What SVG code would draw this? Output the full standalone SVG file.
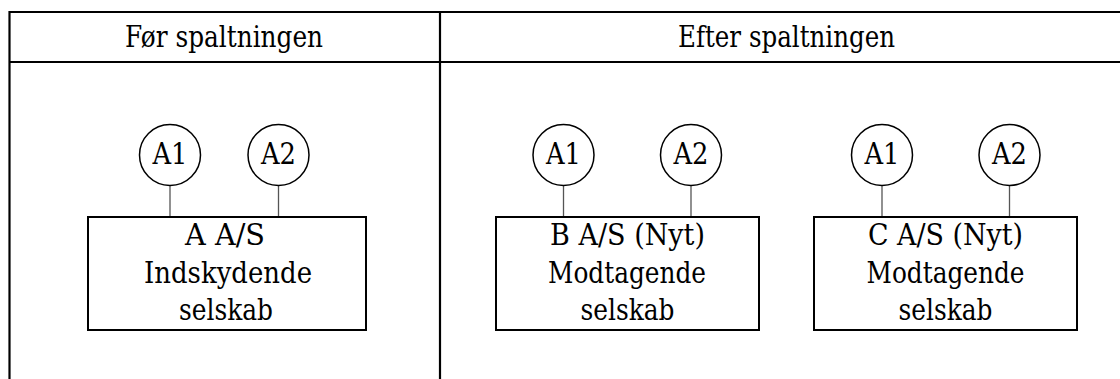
<svg xmlns="http://www.w3.org/2000/svg" width="1120" height="379" viewBox="0 0 1120 379">
<style>
text{font-family:"DejaVu Serif","Liberation Serif",serif;font-size:29px;fill:#000;text-anchor:middle}
.hdr{font-size:30px}
.frame{stroke:#000;stroke-width:2.2;fill:none}
.box{stroke:#000;stroke-width:2;fill:#fff}
.circ{stroke:#000;stroke-width:1.5;fill:#fff}
.conn{stroke:#555;stroke-width:1.3}
</style>
<g id="table">
<line class="frame" x1="9.5" y1="12" x2="1120" y2="12"/>
<line class="frame" x1="9.5" y1="62" x2="1120" y2="62"/>
<line class="frame" x1="9.5" y1="11" x2="9.5" y2="379"/>
<line class="frame" x1="440" y1="12" x2="440" y2="379"/>
<text class="hdr" x="224" y="46.5" textLength="198" lengthAdjust="spacingAndGlyphs">Før spaltningen</text>
<text class="hdr" x="786.5" y="46.5" textLength="217" lengthAdjust="spacingAndGlyphs">Efter spaltningen</text>
</g>
<g id="connectors">
<line class="conn" x1="170" y1="185.5" x2="170" y2="217"/>
<line class="conn" x1="278.5" y1="185.5" x2="278.5" y2="217"/>
<line class="conn" x1="563.5" y1="185.5" x2="563.5" y2="217"/>
<line class="conn" x1="691" y1="185.5" x2="691" y2="217"/>
<line class="conn" x1="882" y1="185.5" x2="882" y2="217"/>
<line class="conn" x1="1009.5" y1="185.5" x2="1009.5" y2="217"/>
</g>
<g id="nodeA">
<rect class="box" x="88" y="217" width="278" height="113"/>
<text x="225" y="245" textLength="80" lengthAdjust="spacingAndGlyphs">A A/S</text>
<text x="228" y="283" textLength="168" lengthAdjust="spacingAndGlyphs">Indskydende</text>
<text x="226" y="320" textLength="94" lengthAdjust="spacingAndGlyphs">selskab</text>
</g>
<g id="nodeA_A1"><circle class="circ" cx="170" cy="155" r="30.5"/><text x="170" y="164" textLength="35" lengthAdjust="spacingAndGlyphs">A1</text></g>
<g id="nodeA_A2"><circle class="circ" cx="278.5" cy="155" r="30.5"/><text x="278.5" y="164" textLength="35" lengthAdjust="spacingAndGlyphs">A2</text></g>
<g id="nodeB">
<rect class="box" x="496" y="217" width="263" height="113"/>
<text x="627.5" y="245" textLength="155" lengthAdjust="spacingAndGlyphs">B A/S (Nyt)</text>
<text x="627" y="283" textLength="158" lengthAdjust="spacingAndGlyphs">Modtagende</text>
<text x="627.5" y="320" textLength="94" lengthAdjust="spacingAndGlyphs">selskab</text>
</g>
<g id="nodeB_A1"><circle class="circ" cx="563.5" cy="155" r="30.5"/><text x="563.5" y="164" textLength="35" lengthAdjust="spacingAndGlyphs">A1</text></g>
<g id="nodeB_A2"><circle class="circ" cx="691" cy="155" r="30.5"/><text x="691" y="164" textLength="35" lengthAdjust="spacingAndGlyphs">A2</text></g>
<g id="nodeC">
<rect class="box" x="814" y="217" width="263" height="113"/>
<text x="945.5" y="245" textLength="155" lengthAdjust="spacingAndGlyphs">C A/S (Nyt)</text>
<text x="945.5" y="283" textLength="158" lengthAdjust="spacingAndGlyphs">Modtagende</text>
<text x="945.5" y="320" textLength="94" lengthAdjust="spacingAndGlyphs">selskab</text>
</g>
<g id="nodeC_A1"><circle class="circ" cx="882" cy="155" r="30.5"/><text x="882" y="164" textLength="35" lengthAdjust="spacingAndGlyphs">A1</text></g>
<g id="nodeC_A2"><circle class="circ" cx="1009.5" cy="155" r="30.5"/><text x="1009.5" y="164" textLength="35" lengthAdjust="spacingAndGlyphs">A2</text></g>
</svg>
